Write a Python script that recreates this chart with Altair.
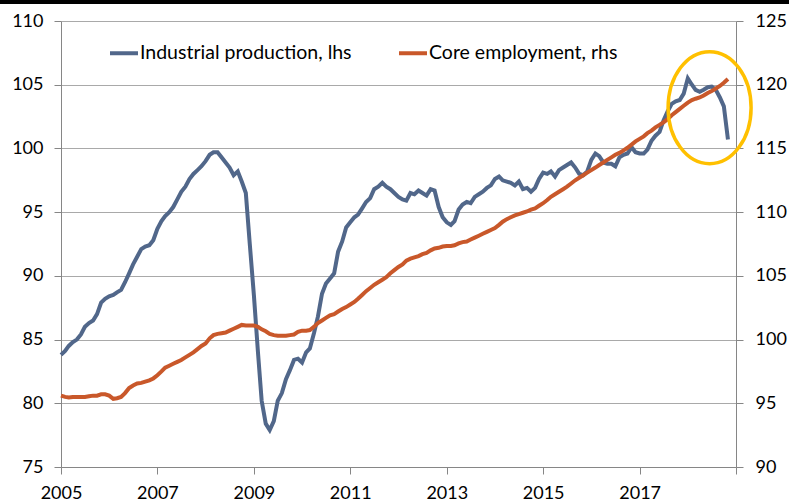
import altair as alt
import pandas as pd

series_names = ["Industrial production, lhs", "Core employment, rhs"]

industrial_production = [
    83.8, 84.1, 84.5, 84.8, 85.0, 85.4, 86.0, 86.3, 86.5, 87.0, 87.9, 88.2,
    88.4, 88.5, 88.7, 88.9, 89.5, 90.2, 90.9, 91.5, 92.1, 92.3, 92.4, 92.8,
    93.7, 94.3, 94.7, 95.0, 95.4, 96.0, 96.6, 97.0, 97.6, 98.0, 98.3, 98.6,
    99.0, 99.5, 99.7, 99.7, 99.3, 98.9, 98.5, 97.9, 98.2, 97.4, 96.5, 92.5,
    88.5, 84.0, 80.2, 78.4, 77.9, 78.6, 80.2, 80.8, 81.9, 82.6, 83.4, 83.5,
    83.2, 84.0, 84.3, 85.5, 86.8, 88.6, 89.4, 89.8, 90.2, 91.9, 92.7, 93.8,
    94.2, 94.6, 94.8, 95.3, 95.8, 96.1, 96.8, 97.0, 97.3, 97.0, 96.8, 96.5,
    96.2, 96.0, 95.9, 96.5, 96.4, 96.7, 96.5, 96.3, 96.8, 96.7, 95.4, 94.6,
    94.2, 94.0, 94.3, 95.2, 95.6, 95.8, 95.7, 96.2, 96.4, 96.6, 96.9, 97.1,
    97.6, 97.8, 97.5, 97.4, 97.3, 97.1, 97.4, 96.8, 96.9, 96.6, 96.9, 97.6,
    98.1, 98.0, 98.2, 97.8, 98.3, 98.5, 98.7, 98.9, 98.5, 98.0, 97.9, 98.2,
    99.1, 99.6, 99.4, 98.9, 98.8, 98.8, 98.6, 99.3, 99.5, 99.6, 100.1, 99.7,
    99.6, 99.6, 99.9, 100.6, 101.0, 101.3, 102.2, 102.9, 103.5, 103.7, 103.8, 104.3,
    105.5, 105.0, 104.6, 104.45, 104.6, 104.8, 104.85, 104.6, 104.0, 103.3, 100.7,
]

core_employment = [
    95.6, 95.5, 95.45, 95.5, 95.5, 95.5, 95.5, 95.55, 95.6, 95.6, 95.7, 95.7,
    95.6, 95.35, 95.4, 95.5, 95.8, 96.2, 96.4, 96.55, 96.6, 96.7, 96.8, 96.95,
    97.2, 97.5, 97.8, 97.95, 98.1, 98.25, 98.4, 98.6, 98.8, 99.0, 99.25, 99.5,
    99.7, 100.1, 100.35, 100.45, 100.5, 100.55, 100.7, 100.85, 101.0, 101.15, 101.1, 101.1,
    101.1, 101.0, 100.8, 100.65, 100.45, 100.35, 100.3, 100.3, 100.3, 100.35, 100.4, 100.6,
    100.7, 100.7, 100.75, 101.0, 101.3, 101.5, 101.7, 101.9, 102.0, 102.2, 102.4, 102.55,
    102.75, 102.95, 103.2, 103.5, 103.8, 104.05, 104.3, 104.5, 104.7, 104.9, 105.2, 105.45,
    105.7, 105.9, 106.2, 106.35, 106.45, 106.55, 106.7, 106.8, 107.0, 107.15, 107.2, 107.3,
    107.35, 107.35, 107.4, 107.55, 107.65, 107.7, 107.85, 108.0, 108.15, 108.3, 108.45, 108.6,
    108.75, 109.0, 109.25, 109.45, 109.6, 109.75, 109.85, 109.95, 110.05, 110.2, 110.3, 110.5,
    110.7, 110.95, 111.2, 111.4, 111.6, 111.8, 112.0, 112.25, 112.5, 112.7, 112.9, 113.1,
    113.3, 113.5, 113.7, 113.9, 114.1, 114.3, 114.5, 114.65, 114.85, 115.05, 115.3, 115.55,
    115.75, 115.95, 116.2, 116.4, 116.65, 116.85, 117.05, 117.3, 117.6, 117.85, 118.1, 118.35,
    118.6, 118.8, 118.9, 119.0, 119.15, 119.35, 119.5, 119.7, 119.9, 120.15, 120.45,
]

left_ticks = [75, 80, 85, 90, 95, 100, 105, 110]
right_ticks = [90, 95, 100, 105, 110, 115, 120, 125]
year_ticks = [2005, 2007, 2009, 2011, 2013, 2015, 2017, 2019]

# highlighted region (annotation ellipse centre)
highlight_date = ["2018-06-15"]
highlight_value = [103.2]

n = len(industrial_production)
dates = pd.date_range("2005-01-01", periods=n, freq="MS").strftime("%Y-%m-%d").tolist()

df = pd.DataFrame({
    "date": dates * 2,
    "value": industrial_production + core_employment,
    "series": [series_names[0]] * n + [series_names[1]] * n,
})

BLUE = "#51678A"
ORANGE = "#C9582A"
FONT = "Lato"
AXIS_GRAY = "#868686"

color = alt.Color(
    "series:N",
    scale=alt.Scale(domain=series_names, range=[BLUE, ORANGE]),
    legend=alt.Legend(
        orient="none", legendX=47, legendY=16, direction="horizontal", title=None,
        symbolType="stroke", symbolSize=784, symbolStrokeWidth=4,
        labelFont=FONT, labelFontSize=19.5, labelColor="#000000", labelLimit=0,
        columnPadding=39, labelOffset=0,
    ),
)

x_enc = alt.X(
    "date:T",
    title=None,
    scale=alt.Scale(domain=[alt.DateTime(year=2005, month=1, date=1),
                            alt.DateTime(year=2019, month=1, date=1)]),
    axis=alt.Axis(
        values=[alt.DateTime(year=y, month=1, date=1) for y in year_ticks],
        labelExpr="year(datum.value) == 2019 ? '' : timeFormat(datum.value, '%Y')",
        grid=False, domainColor=AXIS_GRAY, tickColor=AXIS_GRAY, tickSize=7,
        labelFont=FONT, labelFontSize=18, labelColor="#000000", labelPadding=10,
        labelFlush=False, labelOverlap=False,
    ),
)

ip_line = alt.Chart(df).transform_filter(
    alt.datum.series == series_names[0]
).mark_line(strokeWidth=4).encode(
    x=x_enc,
    y=alt.Y("value:Q", title=None,
            scale=alt.Scale(domain=[75, 110], nice=False, zero=False),
            axis=alt.Axis(orient="left", values=left_ticks, grid=True,
                          gridColor="#A9A9A9", gridWidth=1,
                          domainColor=AXIS_GRAY, tickColor=AXIS_GRAY, tickSize=7,
                          labelFont=FONT, labelFontSize=18, labelColor="#000000",
                          labelPadding=11)),
    color=color,
)

emp_line = alt.Chart(df).transform_filter(
    alt.datum.series == series_names[1]
).mark_line(strokeWidth=4).encode(
    x=x_enc,
    y=alt.Y("value:Q", title=None,
            scale=alt.Scale(domain=[90, 125], nice=False, zero=False),
            axis=alt.Axis(orient="right", values=right_ticks, grid=False,
                          domainColor=AXIS_GRAY, tickColor=AXIS_GRAY, tickSize=7,
                          labelFont=FONT, labelFontSize=18, labelColor="#000000",
                          labelPadding=12)),
    color=color,
)

ellipse_path = "M -1 0 A 1 1.35 0 1 0 1 0 A 1 1.35 0 1 0 -1 0 Z"
ellipse = alt.Chart(pd.DataFrame({"date": highlight_date, "value": highlight_value})).mark_point(
    shape=ellipse_path, size=6889, filled=False, stroke="#FFC000", strokeWidth=3.5, opacity=1,
).encode(
    x=alt.X("date:T"),
    y=alt.Y("value:Q", scale=alt.Scale(domain=[75, 110], nice=False, zero=False), axis=None),
)

top_bar = alt.Chart(pd.DataFrame({"a": [0]})).mark_rule(color="#000000", strokeWidth=4).encode(
    x=alt.value(-61), x2=alt.value(728), y=alt.value(-19),
)

chart = alt.layer(ip_line, emp_line, ellipse, top_bar).resolve_scale(
    y="independent"
).properties(
    width=675, height=446,
    autosize=alt.AutoSizeParams(type="none"),
    padding={"left": 61, "top": 21, "right": 53, "bottom": 37},
    background="#FFFFFF",
).configure_view(stroke=None)

chart.save("out.html", embed_options={"renderer": "svg", "actions": False})
